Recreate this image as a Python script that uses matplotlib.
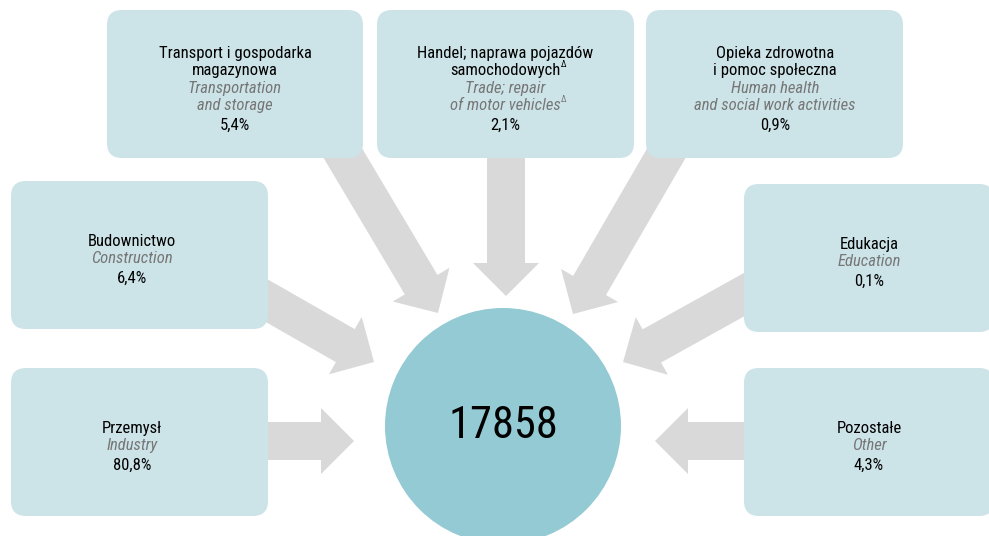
import matplotlib
matplotlib.use("Agg")
import matplotlib.pyplot as plt
from matplotlib.patches import FancyBboxPatch, FancyArrow, Circle

# sector data (share of total, %); "^" marks a trailing delta sign
sectors_pl = ["Przemysł", "Budownictwo", "Transport i gospodarka\nmagazynowa",
              "Handel; naprawa pojazdów\nsamochodowych^",
              "Opieka zdrowotna\ni pomoc społeczna", "Edukacja", "Pozostałe"]
sectors_en = ["Industry", "Construction", "Transportation\nand storage",
              "Trade; repair\nof motor vehicles^",
              "Human health\nand social work activities", "Education", "Other"]
shares = [80.8, 6.4, 5.4, 2.1, 0.9, 0.1, 4.3]
total = 17858

# layout in pixels: box (x, y, w, h), text centre x, arrow start, arrow tip
boxes = [(11, 368, 257, 148), (11, 181, 257, 148), (107, 10, 256, 148),
         (377, 10, 257, 148), (646, 10, 257, 148), (744, 184, 250, 148),
         (744, 368, 250, 148)]
text_x = [132, 132, 235, 505, 775, 869, 869]
arrow_from = [(255, 441), (255, 294), (335, 140), (506, 140), (674, 140),
              (756, 288), (756, 441)]
arrow_to = [(354, 441), (374, 362), (438, 313), (506, 296), (573, 314),
            (623, 362), (655, 441)]

box_col = "#cce3e8"
circ_col = "#94cad3"
arrow_col = "#d9d9d9"
grey = "#767676"
fam = ["Liberation Sans Narrow", "DejaVu Sans Condensed", "Roboto Condensed",
       "Roboto", "DejaVu Sans"]

fig = plt.figure(figsize=(9.89, 5.36), dpi=100)
ax = fig.add_axes([0, 0, 1, 1])
ax.set_xlim(0, 989)
ax.set_ylim(536, 0)
ax.axis("off")

for (x0, y0), (x1, y1) in zip(arrow_from, arrow_to):
    ax.add_patch(FancyArrow(x0, y0, x1 - x0, y1 - y0, width=38, head_width=66,
                            head_length=33, length_includes_head=True,
                            color=arrow_col, lw=0, zorder=1))

ax.add_patch(Circle((503, 426), 118, color=circ_col, lw=0, zorder=2))
ax.text(503, 426, str(total), ha="center", va="center", fontsize=32,
        family=fam, color="black", zorder=5)

deltas = []
for i, (x, y, w, h) in enumerate(boxes):
    ax.add_patch(FancyBboxPatch((x, y), w, h, boxstyle="round,pad=0,rounding_size=15",
                                fc=box_col, ec="none", zorder=3))
    lines = [(s, "black", "normal") for s in sectors_pl[i].split("\n")]
    lines += [(s, grey, "italic") for s in sectors_en[i].split("\n")]
    lines.append((f"{shares[i]:.1f}".replace(".", ",") + "%", "black", "normal"))
    gaps = [17.5] * (len(lines) - 2) + [19.5]
    offs = [0]
    for g in gaps:
        offs.append(offs[-1] + g)
    mean = sum(offs) / len(offs)
    first = y + h / 2 + 9 - mean
    for (txt, col, sty), o in zip(lines, offs):
        t = ax.text(text_x[i], first + o, txt.rstrip("^"), ha="center", va="baseline",
                    fontsize=12, family=fam, style=sty, color=col, zorder=5)
        if txt.endswith("^"):
            deltas.append((t, col, first + o))

# small superscript delta after marked lines
fig.canvas.draw()
r = fig.canvas.get_renderer()
for t, col, yb in deltas:
    bb = t.get_window_extent(r)
    xd = ax.transData.inverted().transform((bb.x1, 0))[0]
    ax.text(xd + 0.5, yb - 8, "Δ", ha="left", va="baseline", fontsize=6.5,
            family=fam, color=col, zorder=5)

fig.savefig("out.png", dpi=100)
